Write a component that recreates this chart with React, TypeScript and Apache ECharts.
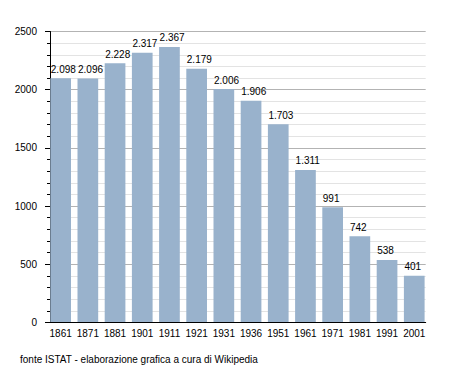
import React, { useEffect, useRef } from "react";
import * as echarts from "echarts";

const years = ["1861", "1871", "1881", "1901", "1911", "1921", "1931", "1936", "1951", "1961", "1971", "1981", "1991", "2001"];
const population = [2098, 2096, 2228, 2317, 2367, 2179, 2006, 1906, 1703, 1311, 991, 742, 538, 401];
const yMin = 0;
const yMax = 2500;
const yStep = 500;
const footer = "fonte ISTAT - elaborazione grafica a cura di Wikipedia";

const FONT = "'Liberation Sans', Arial, sans-serif";

function fmt(v: number): string {
  const s = String(Math.round(v));
  return s.replace(/\B(?=(\d{3})+(?!\d))/g, ".");
}

export default function App() {
  const ref = useRef<HTMLDivElement>(null);
  useEffect(() => {
    if (!ref.current) return;
    const chart = echarts.init(ref.current, null, { renderer: "svg" });
    chart.setOption({
      animation: false,
      backgroundColor: "#ffffff",
      textStyle: { fontFamily: FONT },
      grid: [
        { left: 50, right: 29.3, top: 31.5, bottom: 50.5, containLabel: false },
        { left: 47.05, width: 380.8, top: 31.5, bottom: 50.5, containLabel: false },
      ],
      xAxis: [
        {
          type: "category",
          gridIndex: 0,
          data: years,
          axisLine: { show: true, lineStyle: { color: "#000", width: 1 } },
          axisTick: { show: false },
          axisLabel: { show: false },
          splitLine: { show: false },
          z: 3,
        },
        {
          type: "category",
          gridIndex: 1,
          data: years,
          axisLine: { show: false },
          axisTick: { show: false },
          axisLabel: { show: true, interval: 0, color: "#000", fontSize: 10, fontFamily: FONT, margin: 6 },
          splitLine: { show: false },
        },
      ],
      yAxis: [
        {
          type: "value",
          gridIndex: 0,
          min: yMin,
          max: yMax,
          interval: yStep,
          axisLine: { show: true, lineStyle: { color: "#000", width: 1 } },
          axisTick: { show: true, length: 5, lineStyle: { color: "#000" } },
          minorTick: { show: true, splitNumber: 5, length: 3, lineStyle: { color: "#000" } },
          axisLabel: {
            color: "#000",
            fontSize: 10,
            fontFamily: FONT,
            margin: 13,
            formatter: (v: number) => String(v),
          },
          splitLine: { show: true, lineStyle: { color: "#b3b3b3", width: 1 } },
          minorSplitLine: { show: true, lineStyle: { color: "#e3e3e3", width: 1 } },
          z: 0,
        },
        {
          type: "value",
          gridIndex: 1,
          min: yMin,
          max: yMax,
          interval: yStep,
          show: false,
          splitLine: { show: false },
        },
      ],
      series: [
        {
          type: "bar",
          xAxisIndex: 1,
          yAxisIndex: 1,
          data: population,
          barWidth: 20.7,
          itemStyle: { color: "#99b2cc" },
          label: {
            show: true,
            position: [0.5, -4],
            align: "left",
            verticalAlign: "bottom",
            color: "#000",
            fontSize: 10,
            fontFamily: FONT,
            formatter: (p: any) => fmt(p.value),
          },
          z: 2,
        },
      ],
      graphic: [
        {
          type: "text",
          left: 20,
          top: 354,
          style: { text: footer, fill: "#000", fontSize: 10, fontFamily: FONT },
        },
      ],
    });
    return () => chart.dispose();
  }, []);
  return (
    <div
      ref={ref}
      style={{ position: "fixed", left: 0, top: 0, width: 455, height: 373, background: "#fff" }}
    />
  );
}
